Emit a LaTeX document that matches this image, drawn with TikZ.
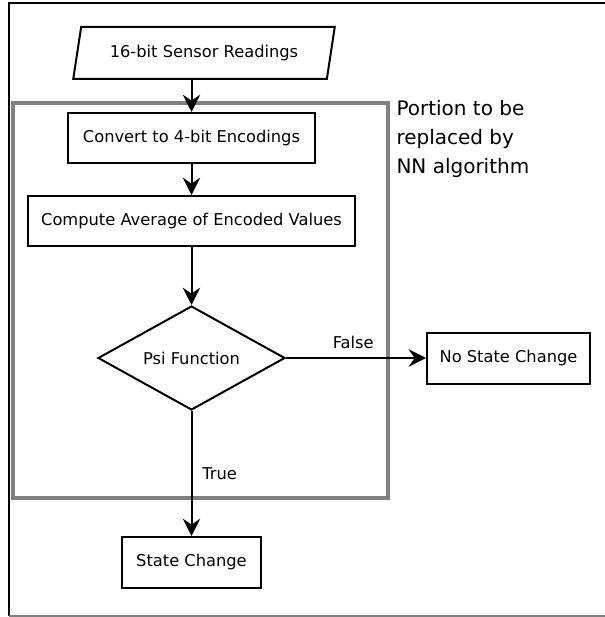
\documentclass[tikz,border=0pt]{standalone}
\usepackage{fontspec}
\setmainfont{DejaVu Sans}
\usetikzlibrary{shapes.geometric,arrows.meta}

\tikzset{every picture/.style={line width=0.75pt}}
\tikzset{
  flow/.style={line width=1.5pt,-{Stealth[length=13pt,width=13pt,inset=4.5pt]}},
  graybox/.style={color={rgb, 255:red, 128; green, 128; blue, 128 }, line width=2.4pt},
}

\begin{document}
\begin{tikzpicture}[x=0.75pt,y=0.75pt,yscale=-1,xscale=1,
    stepbox/.style={draw,line width=1.5pt,inner sep=0pt,font=\fontsize{12.2}{14}\selectfont}]
    \useasboundingbox (0,0) rectangle (605,617);

    %Frame
    \draw [line width=1.2pt] (605,3) -- (9,3) -- (9,616) ;
    \draw [graybox, line width=1.2pt] (9,616) -- (605,616) ;

    %Shape: Rectangle (portion)
    \draw [graybox] (13,103) rectangle (388,498) ;

    %Nodes
    \node [stepbox, trapezium, trapezium left angle=69, trapezium right angle=111, trapezium stretches=true,
           minimum width=262*0.75pt, minimum height=52*0.75pt] (input) at (204,53) {16-bit Sensor Readings};
    \node [stepbox, rectangle, minimum width=247*0.75pt, minimum height=50*0.75pt] (conv) at (191.5,138) {Convert to 4-bit Encodings};
    \node [stepbox, rectangle, minimum width=327*0.75pt, minimum height=50*0.75pt] (avg) at (191.5,221) {Compute Average of Encoded Values};
    \node [stepbox, diamond, shape aspect=1.8, minimum width=187*0.75pt, minimum height=104*0.75pt] (psi) at (191.5,358) {Psi Function};
    \node [stepbox, rectangle, minimum width=163*0.75pt, minimum height=51*0.75pt] (nochg) at (508.5,358) {No State Change};
    \node [stepbox, rectangle, minimum width=139*0.75pt, minimum height=51*0.75pt] (chg) at (191.5,562.5) {State Change};

    % Text Node
    \node [anchor=north west, inner sep=0pt, align=left, font=\fontsize{15}{21.75}\selectfont] (note) at (396,100)
        {Portion to be\\replaced by\\NN algorithm};

    %Arrows
    \draw [flow] (input.south -| conv.north) -- (conv) ;
    \draw [flow] (conv) -- (avg) ;
    \draw [flow] (avg) -- (psi) ;
    \draw [flow] (psi) -- node [above=3pt, pos=0.48, font=\fontsize{12.2}{14}\selectfont] {False} (nochg) ;
    \draw [flow] (psi) -- node [right=4pt, pos=0.5, font=\fontsize{12.2}{14}\selectfont] {True} (chg) ;

\end{tikzpicture}
\end{document}
